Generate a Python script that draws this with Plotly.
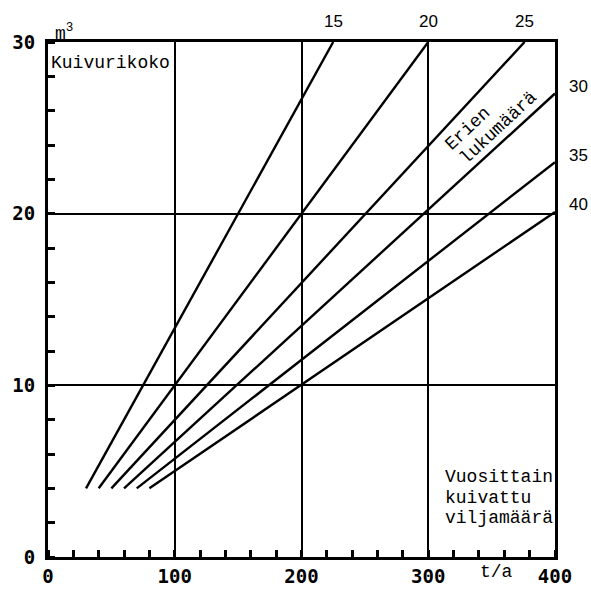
import plotly.graph_objects as go

# Number of drying batches per year, one line per value
batches = [15, 20, 25, 30, 35, 40]
# Annual amount dried (t/a) and dryer size (m3) at each line's two ends
start_tonnes = [30, 40, 50, 60, 70, 80]
start_volume = [4, 4, 4, 4, 4, 4]
end_tonnes = [225, 300, 376, 400, 400, 400]
end_volume = [30, 30, 30, 27.0, 23.0, 20.1]

x_ticks = [0, 100, 200, 300, 400]
y_ticks = [0, 10, 20, 30]

MONO = "Liberation Mono"
SANS = "Liberation Sans"
TICK_FONT = dict(family="DejaVu Sans Mono", size=19, color="black", weight="bold")

fig = go.Figure()

for n, x0, y0, x1, y1 in zip(batches, start_tonnes, start_volume, end_tonnes, end_volume):
    fig.add_trace(go.Scatter(
        x=[x0, x1], y=[y0, y1], mode="lines",
        line=dict(color="black", width=2.4),
        showlegend=False, hoverinfo="skip", cliponaxis=False,
    ))
    # batch-count label at the end of each line
    on_top = y1 >= 30
    fig.add_annotation(
        x=x1, y=y1, text=str(n), showarrow=False,
        xshift=0 if on_top else 23, yshift=21 if on_top else 7,
        font=dict(family=SANS, size=17, color="black"),
    )

axis_common = dict(
    showline=True, linecolor="black", linewidth=3, mirror=True,
    showgrid=True, gridcolor="black", gridwidth=2,
    zeroline=False, ticks="", tickfont=TICK_FONT,
    automargin=False,
)

fig.update_xaxes(
    range=[0, 400], tickvals=x_ticks, ticktext=[str(v) for v in x_ticks],
    ticklabelstandoff=0,
    minor=dict(dtick=20, tick0=0, ticks="inside", ticklen=7, tickwidth=2.5,
               tickcolor="black", showgrid=False),
    **axis_common,
)
fig.update_yaxes(
    range=[0, 30], tickvals=y_ticks, ticktext=[str(v) for v in y_ticks],
    ticklabelstandoff=6,
    minor=dict(dtick=2, tick0=0, ticks="inside", ticklen=7, tickwidth=2.5,
               tickcolor="black", showgrid=False),
    **axis_common,
)

# Axis captions and notes
fig.add_annotation(xref="paper", yref="paper", x=0, y=1, xanchor="left", yanchor="bottom",
                   xshift=5, yshift=-4, text="m<sup>3</sup>", showarrow=False,
                   font=dict(family=MONO, size=18, color="black"))
fig.add_annotation(xref="paper", yref="y", x=0, y=28.8, xanchor="left", xshift=1,
                   text="Kuivurikoko", showarrow=False,
                   font=dict(family=MONO, size=18, color="black"))
fig.add_annotation(xref="x", yref="paper", x=354, y=-0.029, yanchor="middle",
                   text="t/a", showarrow=False,
                   font=dict(family=MONO, size=18, color="black"))

note_lines = ["Vuosittain", "kuivattu", "viljamäärä"]
for i, line in enumerate(note_lines):
    fig.add_annotation(xref="x", yref="y", x=311.5, y=4.66, xanchor="left",
                       yshift=-20.5 * i, text=line, showarrow=False,
                       font=dict(family=MONO, size=18, color="black"))

# Slanted caption for the batch-count lines, one rotated line of text each
slant_lines = [("Erien", 331, 24.92), ("lukumäärä", 355.3, 24.98)]
for text, xc, yc in slant_lines:
    fig.add_annotation(xref="x", yref="y", x=xc, y=yc, text=text,
                       textangle=-43, showarrow=False,
                       font=dict(family=MONO, size=18, color="black"))

fig.update_layout(
    width=591, height=590,
    margin=dict(l=48, r=36, t=42, b=33, autoexpand=False),
    paper_bgcolor="white", plot_bgcolor="white",
    showlegend=False,
)

fig.write_html("out.html")
